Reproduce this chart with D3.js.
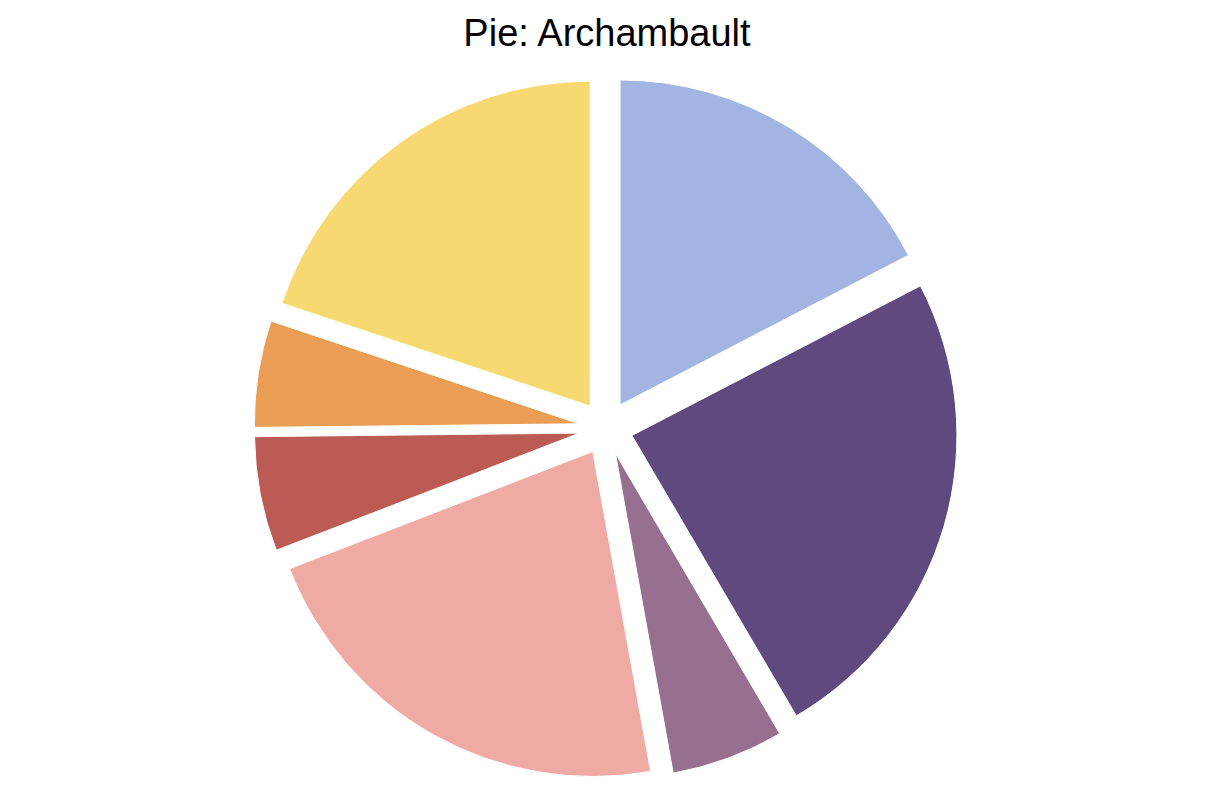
<!DOCTYPE html>
<html>
<head>
<meta charset="utf-8">
<script src="https://cdn.jsdelivr.net/npm/d3@7"></script>
<style>
  body { margin: 0; background: #fff; }
  text { font-family: "Liberation Sans", Arial, sans-serif; }
</style>
</head>
<body>
<div id="chart"></div>
<script>
// slice names, values (share of the whole) and fills, clockwise from 12 o'clock
const labels = ['A', 'B', 'C', 'D', 'E', 'F', 'G'];
const values = [17.4, 24.2, 5.6, 22.0, 5.7, 5.3, 19.9];
const colors = ['#A2B4E2', '#5F4A80', '#96708E', '#F0AAA4', '#BC5B54', '#EA9D54', '#F8D971'];
const title = 'Pie: Archambault';

const draw = () => {
  const width = 1213;
  const height = 808;
  const cx = 606, cy = 428;
  const radius = 325;
  const explode = 27;

  const svg = d3.select('#chart')
    .append('svg')
    .attr('width', width)
    .attr('height', height);

  svg.append('text')
    .attr('x', 607)
    .attr('y', 46)
    .attr('text-anchor', 'middle')
    .attr('font-size', 38)
    .attr('fill', '#000')
    .text(title);

  const data = labels.map((d, i) => ({label: d, value: values[i], color: colors[i]}));

  const pie = d3.pie()
    .sort(null)
    .value(d => d.value);

  const arc = d3.arc()
    .innerRadius(0)
    .outerRadius(radius);

  const g = svg.append('g')
    .attr('transform', `translate(${cx}, ${cy})`);

  g.selectAll('.slice')
    .data(pie(data))
    .join('path')
    .attr('class', 'slice')
    .attr('d', arc)
    .attr('fill', d => d.data.color)
    .attr('stroke', '#fff')
    .attr('stroke-width', 1)
    .attr('transform', d => {
      const mid = (d.startAngle + d.endAngle) / 2;
      return `translate(${explode * Math.sin(mid)}, ${-explode * Math.cos(mid)})`;
    });
}

draw();
</script>
</body>
</html>
